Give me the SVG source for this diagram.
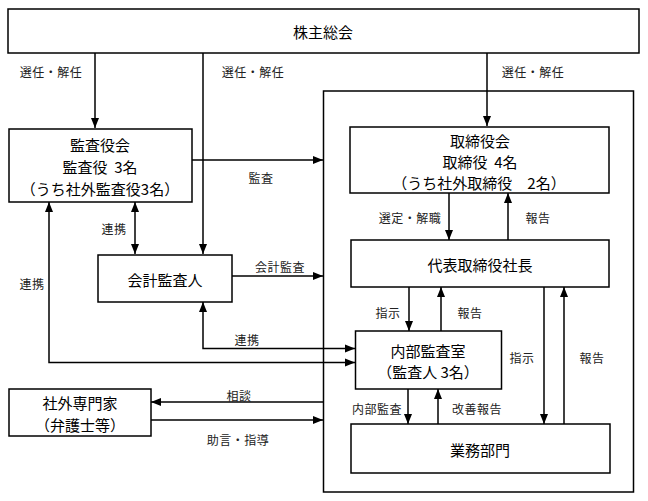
<svg xmlns="http://www.w3.org/2000/svg" width="648" height="501" viewBox="0 0 648 501">
<style>
.box{fill:#fff;stroke:#000;stroke-width:1.5}
.t{font-family:"Noto Sans CJK JP","Noto Sans CJK SC",sans-serif;font-size:15px;fill:#000;text-anchor:middle;dominant-baseline:central}
.l{font-family:"Noto Sans CJK JP","Noto Sans CJK SC",sans-serif;font-size:12px;fill:#222;text-anchor:middle;dominant-baseline:central;letter-spacing:0.5px}
.c{fill:none;stroke:#000;stroke-width:1.5}
.a{marker-end:url(#ah)}
.b{marker-start:url(#ah);marker-end:url(#ah)}
</style>
<defs>
<marker id="ah" viewBox="0 0 10 10" refX="10" refY="5" markerWidth="10" markerHeight="10" markerUnits="userSpaceOnUse" orient="auto-start-reverse">
<path d="M0,1 L10,5 L0,9 z" fill="#000"/>
</marker>
</defs>
<rect width="648" height="501" fill="#fff"/>
<g id="container"><rect class="box" x="323.5" y="91" width="310" height="401"/></g>
<g id="connectors">
<path class="c a" d="M95,53 V128"/>
<path class="c a" d="M203,53 V254"/>
<path class="c a" d="M487,53 V126"/>
<path class="c a" d="M192,160 H323"/>
<path class="c b" d="M135,202 V254"/>
<path class="c a" d="M232,276 H323"/>
<path class="c b" d="M49,202 V362.5 H355"/>
<path class="c b" d="M203,302 V348.5 H355"/>
<path class="c a" d="M449,193 V240"/>
<path class="c a" d="M508,240 V193"/>
<path class="c a" d="M409,287 V331"/>
<path class="c a" d="M441,331 V287"/>
<path class="c a" d="M544,287 V424"/>
<path class="c a" d="M564,424 V287"/>
<path class="c a" d="M408,389 V424"/>
<path class="c a" d="M438,424 V389"/>
<path class="c a" d="M323,402 H151"/>
<path class="c a" d="M151,420 H323"/>
</g>
<g id="labels">
<text class="l" x="51" y="71">選任・解任</text>
<text class="l" x="253" y="71">選任・解任</text>
<text class="l" x="533" y="71">選任・解任</text>
<text class="l" x="261" y="177">監査</text>
<text class="l" x="114" y="228">連携</text>
<text class="l" x="32" y="283">連携</text>
<text class="l" x="280" y="266">会計監査</text>
<text class="l" x="247" y="339">連携</text>
<text class="l" x="410" y="217">選定・解職</text>
<text class="l" x="538" y="217">報告</text>
<text class="l" x="388" y="312">指示</text>
<text class="l" x="470" y="312">報告</text>
<text class="l" x="522" y="357">指示</text>
<text class="l" x="592" y="357">報告</text>
<text class="l" x="377" y="408">内部監査</text>
<text class="l" x="477" y="408">改善報告</text>
<text class="l" x="239" y="395">相談</text>
<text class="l" x="238" y="439">助言・指導</text>
</g>
<g id="kabunushi"><rect class="box" x="8" y="9" width="631" height="44"/><text class="t" x="323" y="31">株主総会</text></g>
<g id="kansayakukai"><rect class="box" x="9" y="129" width="183" height="73"/>
<text class="t" x="100" y="144">監査役会</text>
<text class="t" x="100" y="166" xml:space="preserve">監査役  3名</text>
<text class="t" x="100" y="188">（うち社外監査役3名）</text></g>
<g id="torishimariyakukai"><rect class="box" x="350" y="127" width="259" height="66"/>
<text class="t" x="480" y="140">取締役会</text>
<text class="t" x="480" y="161" xml:space="preserve">取締役  4名</text>
<text class="t" x="479" y="182">（うち社外取締役　2名）</text></g>
<g id="shacho"><rect class="box" x="351" y="240" width="258" height="47"/><text class="t" x="480" y="264">代表取締役社長</text></g>
<g id="kaikei"><rect class="box" x="98" y="255" width="134" height="47"/><text class="t" x="165" y="279">会計監査人</text></g>
<g id="naibu"><rect class="box" x="355.5" y="331" width="146" height="58"/>
<text class="t" x="428" y="350">内部監査室</text>
<text class="t" x="428" y="371">（監査人 3名）</text></g>
<g id="gyomu"><rect class="box" x="351" y="424" width="259" height="49"/><text class="t" x="480" y="449">業務部門</text></g>
<g id="gaibu"><rect class="box" x="9" y="389" width="142" height="47"/>
<text class="t" x="80" y="402">社外専門家</text>
<text class="t" x="80" y="424">（弁護士等）</text></g>
</svg>
